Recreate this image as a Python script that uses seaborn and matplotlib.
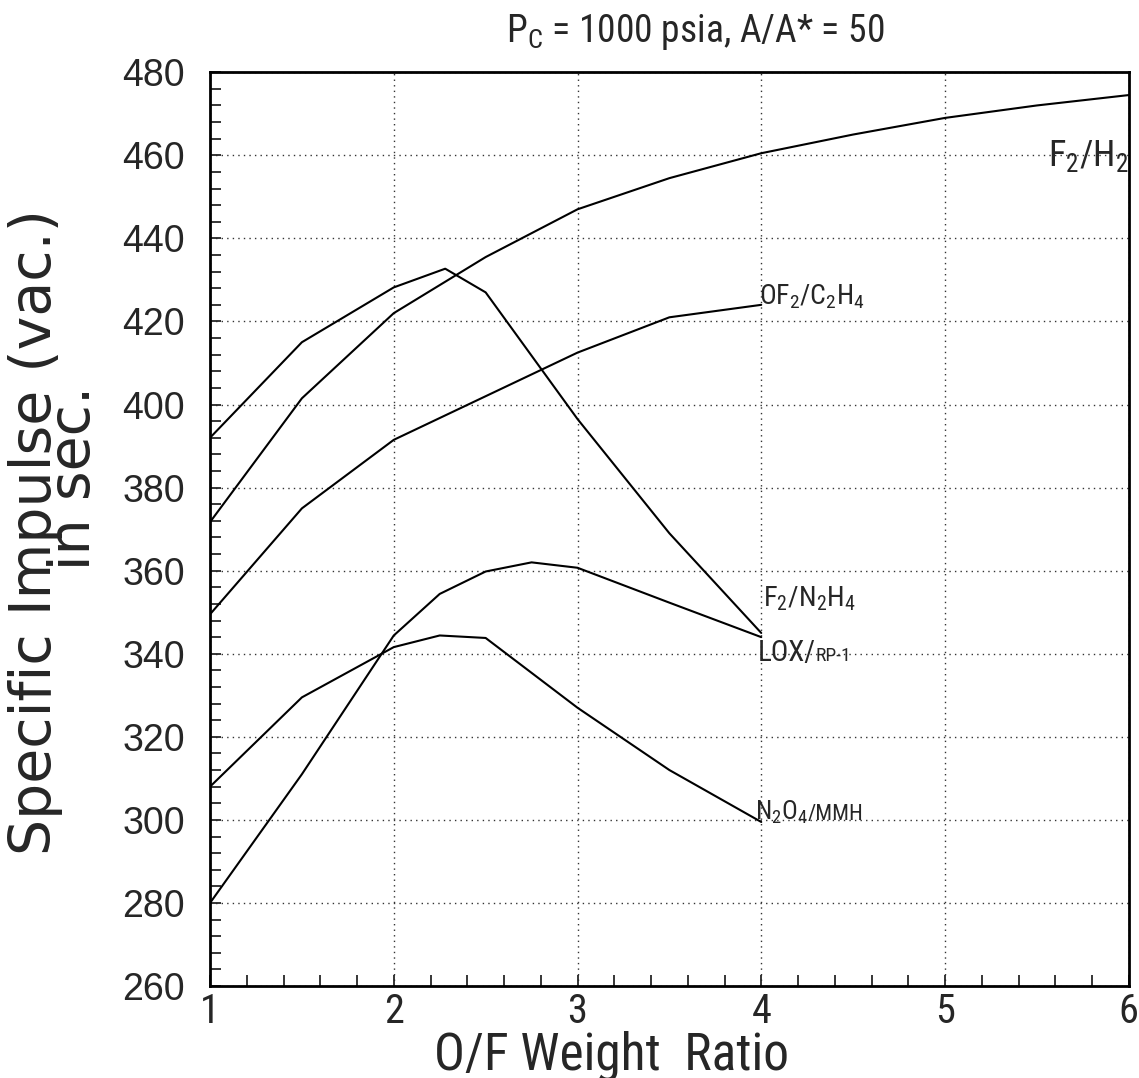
import matplotlib
matplotlib.use("Agg")
import matplotlib.pyplot as plt
from matplotlib import font_manager
from matplotlib.ticker import MultipleLocator
import numpy as np
import pandas as pd
import seaborn as sns

# O/F weight ratio vs. vacuum specific impulse (s), Pc = 1000 psia, A/A* = 50
of_f2h2 = [1.0, 1.5, 2.0, 2.5, 3.0, 3.5, 4.0, 4.5, 5.0, 5.5, 6.0]
isp_f2h2 = [371.7, 401.5, 422.0, 435.5, 447.0, 454.5, 460.5, 465.0, 469.0, 472.0, 474.5]

of_f2n2h4 = [1.0, 1.5, 2.0, 2.28, 2.5, 3.0, 3.5, 4.0]
isp_f2n2h4 = [392.0, 415.0, 428.2, 432.7, 427.0, 396.5, 369.0, 345.0]

of_of2c2h4 = [1.0, 1.5, 2.0, 2.5, 3.0, 3.5, 4.0]
isp_of2c2h4 = [349.5, 375.0, 391.5, 402.0, 412.5, 421.0, 424.0]

of_loxrp1 = [1.0, 1.5, 2.0, 2.25, 2.5, 2.75, 3.0, 3.5, 4.0]
isp_loxrp1 = [280.0, 311.0, 344.4, 354.4, 359.8, 362.0, 360.7, 352.3, 344.0]

of_n2o4mmh = [1.0, 1.5, 2.0, 2.25, 2.5, 3.0, 3.5, 4.0]
isp_n2o4mmh = [308.0, 329.5, 341.6, 344.4, 343.8, 327.0, 312.0, 299.5]

x_ticks = [1, 2, 3, 4, 5, 6]
y_ticks = [260, 280, 300, 320, 340, 360, 380, 400, 420, 440, 460, 480]

series = {
    "F2/H2": (of_f2h2, isp_f2h2),
    "F2/N2H4": (of_f2n2h4, isp_f2n2h4),
    "OF2/C2H4": (of_of2c2h4, isp_of2c2h4),
    "LOX/RP-1": (of_loxrp1, isp_loxrp1),
    "N2O4/MMH": (of_n2o4mmh, isp_n2o4mmh),
}
df = pd.concat(
    [pd.DataFrame({"of": xs, "isp": ys, "prop": name}) for name, (xs, ys) in series.items()],
    ignore_index=True,
)

sns.set_style("ticks")


def pick_family(candidates):
    for fam in candidates:
        try:
            font_manager.findfont(font_manager.FontProperties(family=fam), fallback_to_default=False)
            return fam
        except Exception:
            continue
    return "DejaVu Sans"


narrow = pick_family(["Liberation Sans Narrow", "Roboto Condensed", "Liberation Sans"])
regular = pick_family(["Liberation Sans", "Noto Sans"])
wide = "DejaVu Sans"

plt.rcParams["font.family"] = [narrow, "DejaVu Sans"]
plt.rcParams["mathtext.fontset"] = "custom"
plt.rcParams["mathtext.rm"] = narrow
plt.rcParams["mathtext.it"] = narrow
plt.rcParams["mathtext.bf"] = narrow

fig = plt.figure(figsize=(11.39, 10.78), dpi=100)
ax = fig.add_axes([0.1844, 0.0853, 0.8066, 0.8477])

sns.lineplot(
    data=df, x="of", y="isp", hue="prop",
    palette={k: "black" for k in series}, estimator=None, sort=False,
    legend=False, linewidth=1.5, ax=ax,
)

ax.set_xlim(1, 6)
ax.set_ylim(260, 480)
ax.set_xticks(x_ticks)
ax.set_yticks(y_ticks)
ax.xaxis.set_minor_locator(MultipleLocator(0.2))
ax.yaxis.set_minor_locator(MultipleLocator(4))
ax.grid(True, which="major", linestyle=(0, (1, 3)), color="#333333", linewidth=1.0)
ax.tick_params(which="both", direction="in", top=False, right=False)
ax.tick_params(which="minor", length=8, width=1.3)
ax.tick_params(which="major", length=8, width=1.3)
ax.tick_params(axis="y", which="major", labelsize=27, pad=18)
ax.tick_params(axis="x", which="major", labelsize=29, pad=4)
for lab in ax.get_yticklabels():
    lab.set_family([regular, "DejaVu Sans"])
for sp in ax.spines.values():
    sp.set_visible(True)
    sp.set_linewidth(2.0)
    sp.set_color("black")

ax.set_xlabel("O/F Weight  Ratio", fontsize=37)
ax.xaxis.label.set_va("baseline")
ax.xaxis.set_label_coords(0.4375, -0.0910)

# two-line axis title; the second line sits further toward the top
ax.set_ylabel("Specific Impulse (vac.)\n" + " " * 6 + "in sec.", fontsize=41,
              family=[wide], linespacing=0.62)
ax.yaxis.label.set_va("baseline")
ax.yaxis.set_label_coords(-0.1132, 0.4967)

fig.text(695 / 1139, 1 - 32 / 1078, r"P$_{\mathrm{C}}$ = 1000 psia, A/A* = 50",
         ha="center", va="center", fontsize=27)

# curve labels
ax.text(6.0, 457.5, r"F$_2$/H$_2$", ha="right", va="baseline", fontsize=26)
ax.text(3.99, 424.0, r"OF$_2$/C$_2$H$_4$", ha="left", va="baseline", fontsize=20)
ax.text(4.01, 351.3, r"F$_2$/N$_2$H$_4$", ha="left", va="baseline", fontsize=20.5)
t_lox = ax.text(3.98, 338.2, "LOX/", ha="left", va="baseline", fontsize=21)
t_n2o4 = ax.text(3.965, 300.0, r"N$_2$O$_4$", ha="left", va="baseline", fontsize=19)

# smaller trailing parts share the baseline of the leading part
fig.canvas.draw()
renderer = fig.canvas.get_renderer()
for lead, tail, size, y in [(t_lox, "RP-1", 14, 338.2), (t_n2o4, "/MMH", 16, 300.0)]:
    bb = lead.get_window_extent(renderer)
    x_tail = ax.transData.inverted().transform((bb.x1, 0))[0]
    ax.text(x_tail, y, tail, ha="left", va="baseline", fontsize=size)

fig.savefig("out.png", dpi=100)
